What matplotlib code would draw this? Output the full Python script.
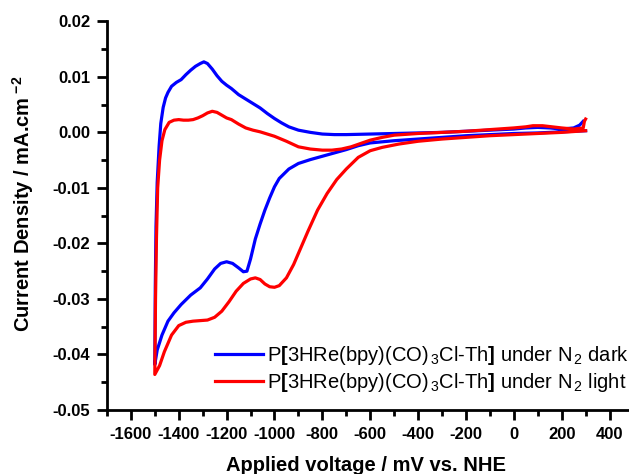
import matplotlib
matplotlib.use("Agg")
import matplotlib.pyplot as plt
from matplotlib.ticker import MultipleLocator, FuncFormatter

plt.rcParams['font.family'] = ['Liberation Sans', 'DejaVu Sans']
plt.rcParams['mathtext.fontset'] = 'custom'
plt.rcParams['mathtext.rm'] = 'Liberation Sans'
plt.rcParams['mathtext.it'] = 'Liberation Sans:italic'
plt.rcParams['mathtext.bf'] = 'Liberation Sans:bold'
plt.rcParams['axes.unicode_minus'] = False

# dark, cathodic sweep (+300 -> -1500 mV)
dark_v_fwd = [300, 200, 100, 0, -100, -200, -300, -400, -500, -600, -650, -700, -750, -800,
              -850, -900, -940, -980, -1000, -1020, -1040, -1060, -1080, -1100, -1115, -1130,
              -1150, -1175, -1200, -1225, -1250, -1280, -1310, -1350, -1390, -1420, -1445,
              -1470, -1490, -1500]
dark_i_fwd = [0.0003, 0.0001, -0.0001, -0.0002, -0.0004, -0.0006, -0.0009, -0.0012, -0.0015,
              -0.0019, -0.0024, -0.0031, -0.0037, -0.0043, -0.0049, -0.0056, -0.0066, -0.0083,
              -0.0098, -0.0118, -0.0140, -0.0165, -0.0192, -0.0228, -0.0250, -0.0251, -0.0244,
              -0.0236, -0.0233, -0.0236, -0.0246, -0.0264, -0.0280, -0.0293, -0.0310, -0.0325,
              -0.0340, -0.0365, -0.0392, -0.0418]
# dark, anodic sweep (-1500 -> +300 mV)
dark_v_rev = [-1500, -1498, -1495, -1490, -1482, -1475, -1465, -1455, -1445, -1430, -1410,
              -1390, -1370, -1350, -1330, -1310, -1295, -1280, -1260, -1240, -1220, -1200,
              -1180, -1150, -1120, -1090, -1060, -1030, -1000, -970, -940, -900, -850, -800,
              -750, -700, -600, -500, -400, -300, -200, -100, 0, 50, 100, 150, 200, 250, 275, 290]
dark_i_rev = [-0.0418, -0.0280, -0.0170, -0.0090, -0.0025, 0.0016, 0.0045, 0.0062, 0.0072,
              0.0083, 0.0090, 0.0095, 0.0104, 0.0112, 0.0119, 0.0124, 0.0127, 0.0124, 0.0114,
              0.0102, 0.0092, 0.0085, 0.0079, 0.0068, 0.0060, 0.0052, 0.0044, 0.0034, 0.0025,
              0.0017, 0.0010, 0.0004, 0.0000, -0.0003, -0.0004, -0.0004, -0.0003, -0.0002,
              -0.0001, 0.0000, 0.0002, 0.0004, 0.0006, 0.0008, 0.0009, 0.0008, 0.0006, 0.0008,
              0.0013, 0.0020]

# light, cathodic sweep
light_v_fwd = [300, 200, 100, 0, -100, -200, -300, -400, -480, -550, -600, -650, -700, -740,
               -780, -820, -860, -890, -920, -950, -980, -1000, -1020, -1040, -1060, -1080,
               -1100, -1130, -1160, -1190, -1220, -1250, -1280, -1310, -1340, -1370, -1400,
               -1430, -1460, -1480, -1500]
light_i_fwd = [0.0003, 0.0000, -0.0002, -0.0004, -0.0006, -0.0009, -0.0012, -0.0016, -0.0021,
               -0.0027, -0.0033, -0.0045, -0.0066, -0.0085, -0.0110, -0.0140, -0.0178, -0.0208,
               -0.0238, -0.0262, -0.0276, -0.0279, -0.0278, -0.0273, -0.0265, -0.0262, -0.0264,
               -0.0272, -0.0286, -0.0305, -0.0322, -0.0333, -0.0338, -0.0339, -0.0340, -0.0342,
               -0.0348, -0.0365, -0.0395, -0.0420, -0.0436]
# light, anodic sweep
light_v_rev = [-1500, -1497, -1493, -1488, -1480, -1470, -1458, -1440, -1420, -1400, -1380,
               -1360, -1340, -1320, -1300, -1280, -1260, -1240, -1220, -1200, -1180, -1150,
               -1120, -1090, -1060, -1030, -1000, -950, -900, -850, -800, -760, -720, -680,
               -640, -600, -550, -500, -400, -300, -200, -100, 0, 50, 80, 120, 160, 200, 250,
               290, 295, 300]
light_i_rev = [-0.0436, -0.0300, -0.0190, -0.0100, -0.0050, -0.0015, 0.0005, 0.0018, 0.0022,
               0.0023, 0.0022, 0.0022, 0.0023, 0.0026, 0.0030, 0.0035, 0.0038, 0.0036, 0.0031,
               0.0026, 0.0023, 0.0015, 0.0008, 0.0004, 0.0001, -0.0003, -0.0007, -0.0016,
               -0.0026, -0.0030, -0.0032, -0.0032, -0.0030, -0.0026, -0.0020, -0.0014, -0.0009,
               -0.0005, -0.0002, 0.0000, 0.0002, 0.0005, 0.0008, 0.0010, 0.0012, 0.0012, 0.0010,
               0.0008, 0.0006, 0.0008, 0.0020, 0.0024]

labels = [r'P$\mathbf{[}$3HRe(bpy)(CO)$_{\,3}$Cl-Th$\mathbf{]}$ under N$_{\,2}$ dark',
          r'P$\mathbf{[}$3HRe(bpy)(CO)$_{\,3}$Cl-Th$\mathbf{]}$ under N$_{\,2}$ light']

fig = plt.figure(figsize=(6.29, 4.74), dpi=100)
ax = fig.add_axes([0.170, 0.135, 0.828, 0.820])

ax.plot(dark_v_fwd + dark_v_rev, dark_i_fwd + dark_i_rev, color='#0000ff', lw=2.3, label=labels[0])
ax.plot(light_v_fwd + light_v_rev, light_i_fwd + light_i_rev, color='#ff0000', lw=2.3, label=labels[1])

ax.set_xlim(-1700, 476)
ax.set_ylim(-0.05, 0.02)
ax.set_xticks(range(-1600, 401, 200))
ax.xaxis.set_minor_locator(MultipleLocator(100))
ax.yaxis.set_major_locator(MultipleLocator(0.01))
ax.yaxis.set_minor_locator(MultipleLocator(0.005))
ax.yaxis.set_major_formatter(FuncFormatter(lambda v, p: '%.2f' % (0.0 if abs(v) < 1e-9 else v)))

for s in ['top', 'right']:
    ax.spines[s].set_visible(False)
for s in ['left', 'bottom']:
    ax.spines[s].set_linewidth(2)
ax.tick_params(which='major', direction='out', length=7, width=2, labelsize=12, pad=5)
ax.tick_params(which='minor', direction='out', length=4, width=2)
for t in ax.get_xticklabels() + ax.get_yticklabels():
    t.set_fontweight('bold')

ax.set_xlabel('Applied voltage / mV vs. NHE', fontsize=14.5, fontweight='bold')
ax.set_ylabel(r'Current Density / mA.cm$^{\ \mathbf{-2}}$', fontsize=14.5, fontweight='bold')
ax.xaxis.set_label_coords(0.497, -0.118)
ax.yaxis.set_label_coords(-0.137, 0.53)

ax.legend(loc='lower right', frameon=False, fontsize=14.5, handlelength=2.4,
          handletextpad=0.2, borderaxespad=0.0, labelspacing=0.2, bbox_to_anchor=(1.018, 0.02))

fig.savefig('out.png', dpi=100)
